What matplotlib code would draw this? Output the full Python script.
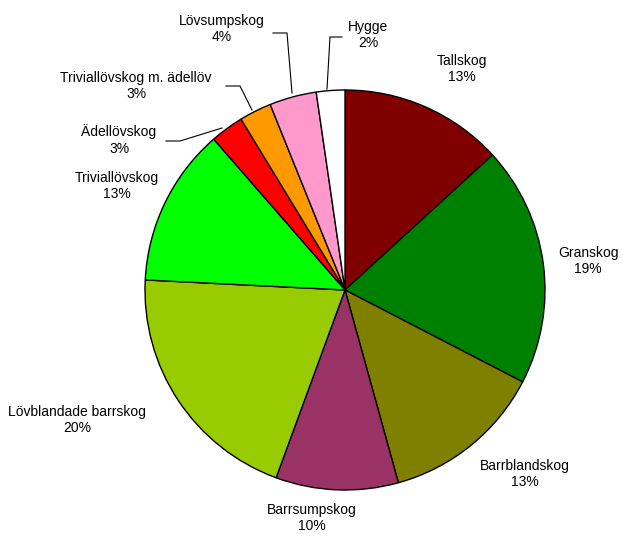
import matplotlib.pyplot as plt

plt.rcParams['font.family'] = ['Liberation Sans', 'DejaVu Sans']

# andelar av areal (%)
kategorier = ["Tallskog", "Granskog", "Barrblandskog", "Barrsumpskog",
              "Lövblandade barrskog", "Triviallövskog", "Ädellövskog",
              "Triviallövskog m. ädellöv", "Lövsumpskog", "Hygge"]
andelar = [13.2, 19.4, 13.1, 9.9, 20.2, 12.8, 2.7, 2.6, 3.8, 2.3]
etiketter = ["13%", "19%", "13%", "10%", "20%", "13%", "3%", "3%", "4%", "2%"]
farger = ["#800000", "#008000", "#808000", "#993366", "#99CC00",
          "#00FF00", "#FF0000", "#FF9900", "#FF99CC", "#FFFFFF"]

fig = plt.figure(figsize=(6.25, 5.37), dpi=100)
ax = fig.add_axes([0, 0, 1, 1])

ax.pie(andelar, colors=farger, startangle=90, counterclock=False,
       radius=1.0, center=(0, 0),
       wedgeprops=dict(edgecolor="black", linewidth=1.0))

ax.set_xlim(-1.725, 1.4)
ax.set_ylim(-1.235, 1.45)
ax.set_aspect("auto")
ax.axis("off")

# etikettpositioner i pixlar (x, y uppifrån)
pos = [(462, 69), (588, 261), (525, 474), (312, 518), (77, 420),
       (117, 186), (119, 140), (136, 86), (222, 29), (368, 35)]


def px(x, y):
    return (x - 345) / 200.0, (290 - y) / 200.0


for namn, txt, (x, y) in zip(kategorier, etiketter, pos):
    tx, ty = px(x, y)
    ax.text(tx, ty, namn + "\n" + txt, ha="center", va="center",
            fontsize=10, linespacing=1.25)

# hänvisningslinjer
linjer = [
    [(166, 141), (180, 141), (222, 128)],
    [(226, 86), (240, 86), (252, 110)],
    [(273, 33), (287, 33), (292, 93)],
    [(342, 37), (330, 37), (327, 89)],
]
for lin in linjer:
    xs = [px(a, b)[0] for a, b in lin]
    ys = [px(a, b)[1] for a, b in lin]
    ax.plot(xs, ys, color="black", linewidth=0.8)

plt.savefig("out.png", dpi=100)
